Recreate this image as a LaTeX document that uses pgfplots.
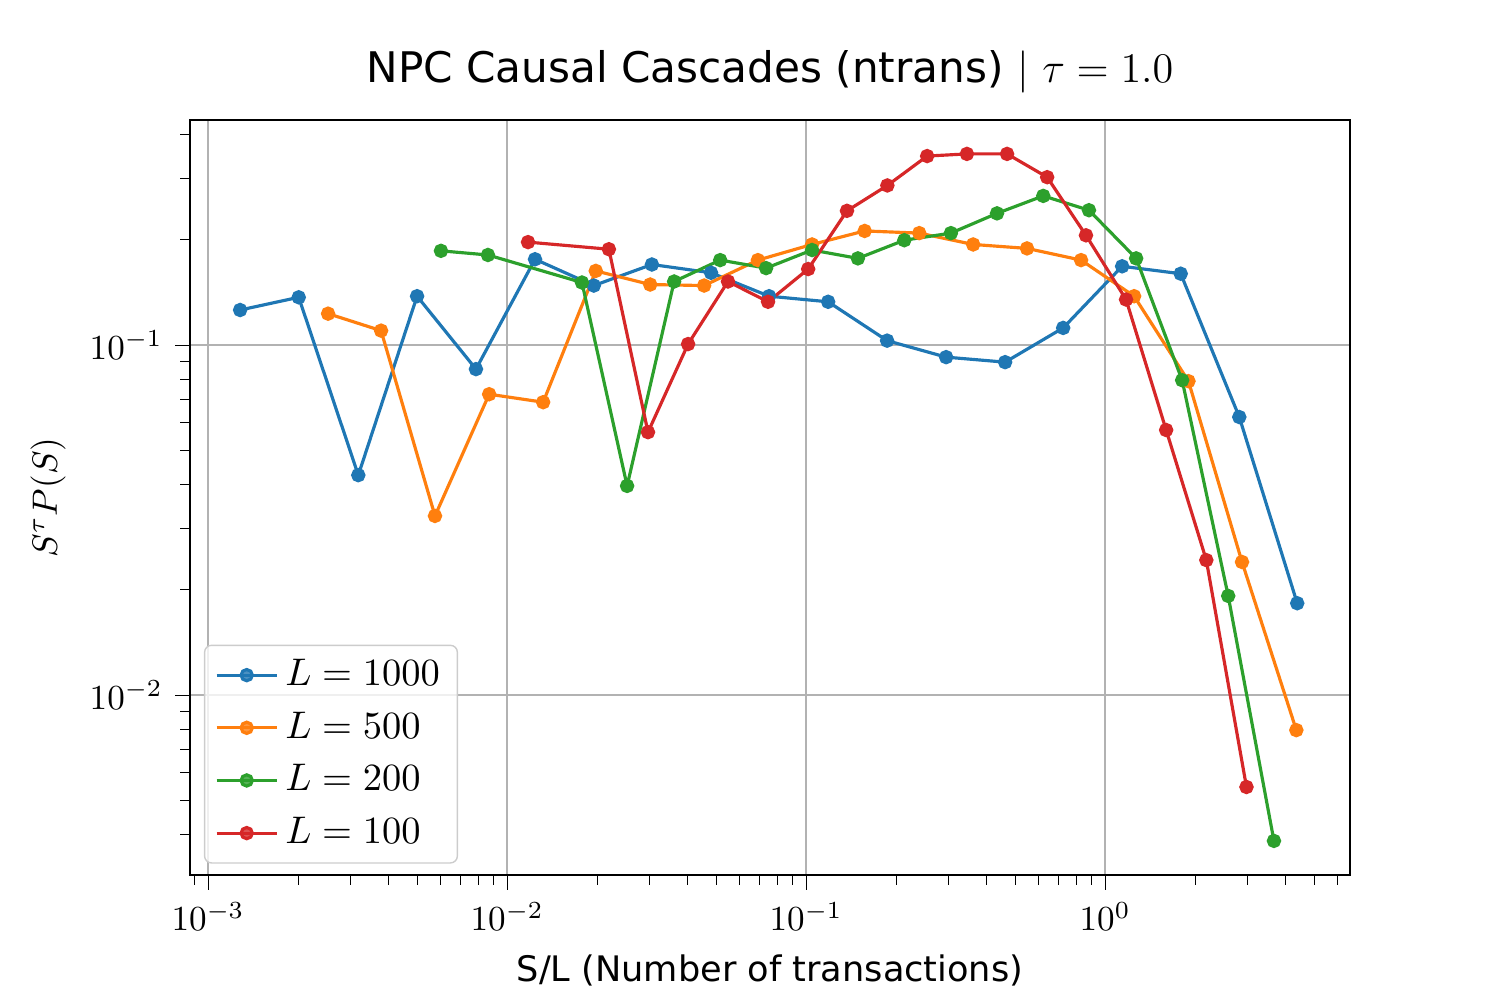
\documentclass[border=0pt]{standalone}
\usepackage{pgfplots}
\pgfplotsset{compat=1.18}
\usepackage{fontspec}
\setmainfont{DejaVu Sans}
\definecolor{c1}{HTML}{1F77B4}
\definecolor{c2}{HTML}{FF7F0E}
\definecolor{c3}{HTML}{2CA02C}
\definecolor{c4}{HTML}{D62728}
\begin{document}
\begin{tikzpicture}
\useasboundingbox (-19mm,-12.5mm) rectangle (131mm,87.5mm);
\begin{axis}[at={(0,0)},anchor=south west,scale only axis,width=116mm,height=75.5mm,
xmode=log,ymode=log,xmin=0.00087,xmax=6.59,ymin=0.00306,ymax=0.44,
grid=major,major grid style={gray!60,line width=0.6pt},
tick style={black},tick align=outside,xtick pos=bottom,ytick pos=left,
title={NPC Causal Cascades (ntrans) $|$ $\tau = 1.0$},
title style={font=\fontsize{12}{14}\selectfont,yshift=-2pt},
xlabel={S/L (Number of transactions)},ylabel={$S^{\tau}P(S)$},
label style={font=\fontsize{10}{12}\selectfont},
ticklabel style={font=\fontsize{10}{12}\selectfont},
every axis plot/.append style={line width=0.9pt,mark=*,mark size=1.6pt},
legend style={at={(0.012,0.015)},anchor=south west,font=\fontsize{11}{13}\selectfont,rounded corners=2pt,draw=gray!40,fill=white,fill opacity=0.8,text opacity=1,row sep=2pt},
legend cell align=left,
]
\addplot[c1] coordinates {(0.00128,0.126)(0.00201,0.137)(0.00318,0.0425)(0.0050,0.138)(0.00787,0.0854)(0.0124,0.176)(0.0195,0.148)(0.0305,0.170)(0.0481,0.161)(0.0752,0.138)(0.1185,0.133)(0.1866,0.103)(0.294,0.0924)(0.463,0.0894)(0.724,0.112)(1.14,0.168)(1.79,0.160)(2.81,0.0623)(4.39,0.0183)};
\addlegendentry{$L = 1000$}
\addplot[c2] coordinates {(0.00252,0.123)(0.00379,0.110)(0.00574,0.0325)(0.00871,0.0724)(0.0132,0.0687)(0.0198,0.163)(0.0301,0.149)(0.0456,0.148)(0.069,0.175)(0.1047,0.194)(0.157,0.212)(0.239,0.209)(0.362,0.194)(0.548,0.189)(0.831,0.175)(1.25,0.138)(1.90,0.0789)(2.87,0.024)(4.36,0.00794)};
\addlegendentry{$L = 500$}
\addplot[c3] coordinates {(0.00601,0.186)(0.00863,0.181)(0.0178,0.151)(0.0252,0.0396)(0.0362,0.152)(0.0516,0.175)(0.0735,0.166)(0.1047,0.187)(0.149,0.177)(0.213,0.1995)(0.305,0.209)(0.435,0.238)(0.621,0.267)(0.883,0.243)(1.27,0.177)(1.81,0.0794)(2.58,0.0192)(3.67,0.00383)};
\addlegendentry{$L = 200$}
\addplot[c4] coordinates {(0.01175,0.197)(0.0219,0.188)(0.0296,0.0564)(0.0403,0.1007)(0.0548,0.152)(0.0746,0.133)(0.1016,0.165)(0.137,0.242)(0.187,0.286)(0.254,0.347)(0.345,0.352)(0.470,0.352)(0.64,0.302)(0.863,0.206)(1.175,0.135)(1.6,0.0572)(2.18,0.0243)(2.97,0.00546)};
\addlegendentry{$L = 100$}
\end{axis}
\end{tikzpicture}
\end{document}
